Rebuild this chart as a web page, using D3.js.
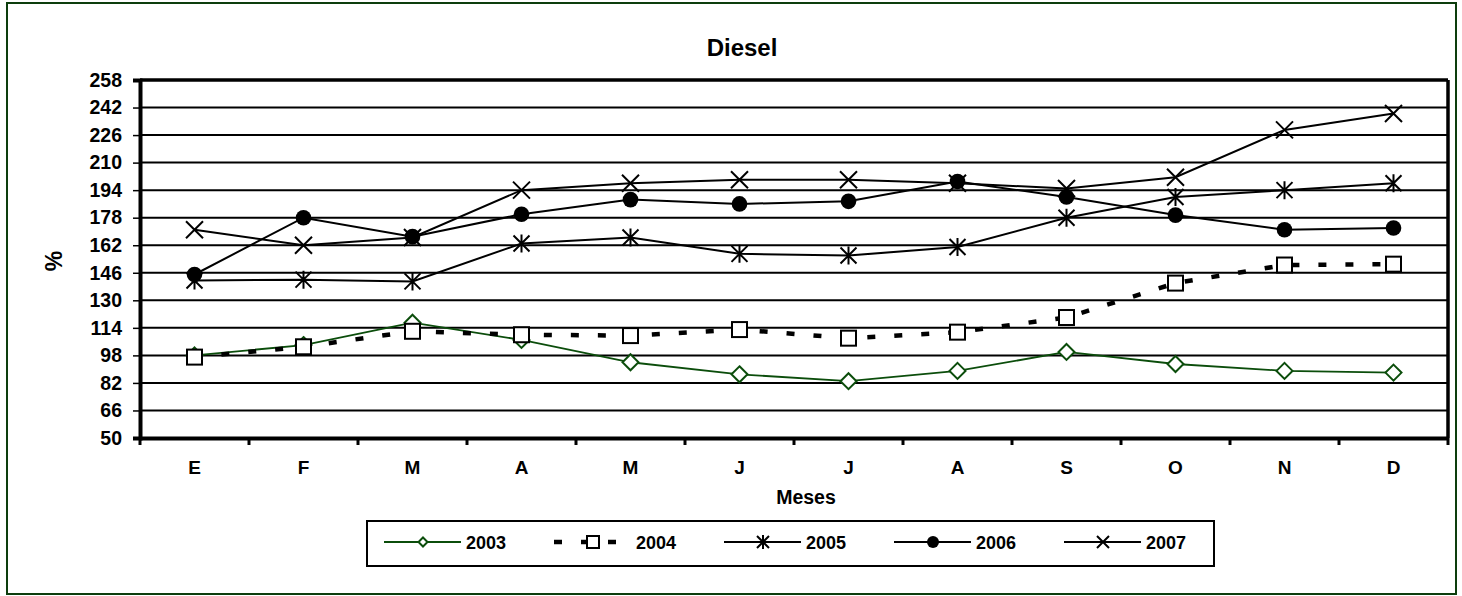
<!DOCTYPE html>
<html>
<head>
<meta charset="utf-8">
<script src="https://cdn.jsdelivr.net/npm/d3@7"></script>
<style>
  html, body { margin: 0; padding: 0; background: #fff; }
  svg { display: block; font-family: "Liberation Sans", Arial, sans-serif; font-weight: bold; }
</style>
</head>
<body>
<svg id="chart" width="1462" height="596"></svg>
<script>
const months = ["E","F","M","A","M","J","J","A","S","O","N","D"];
const yTicks = [50,66,82,98,114,130,146,162,178,194,210,226,242,258];
const seriesNames = ["2003","2004","2005","2006","2007"];
const s2003 = [98, 104, 117, 107, 94, 87, 83, 89, 100, 93, 89, 88];
const s2004 = [97, 103, 112, 110, 109.5, 113, 108, 111.5, 120, 140, 150.5, 151];
const s2005 = [141.5, 142, 141, 163, 166.5, 157, 156, 161, 178, 190, 194, 198];
const s2006 = [145, 178, 167, 180, 188.5, 186, 187.5, 199, 190, 179.5, 171, 172];
const s2007 = [171, 162, 166.5, 194, 198, 200, 200, 198, 195, 201.5, 229, 238.5];

const seriesValues = [s2003, s2004, s2005, s2006, s2007];
const styles = [
  {color: "#0b4d0b", width: 1.8, dash: null, marker: "diamond"},
  {color: "#000", width: 4.5, dash: "8,19", marker: "square"},
  {color: "#000", width: 2, dash: null, marker: "asterisk"},
  {color: "#000", width: 2, dash: null, marker: "circle"},
  {color: "#000", width: 2, dash: null, marker: "x"}
];

const svg = d3.select("#chart");
const L = 140, R = 1448, T = 80, B = 438;

// outer border
svg.append("rect").attr("x", 7).attr("y", 3).attr("width", 1449).attr("height", 591)
  .attr("fill", "#fff").attr("stroke", "#0d3d0d").attr("stroke-width", 2);

const x = d3.scaleBand().domain(d3.range(months.length)).range([L, R]);
const y = d3.scaleLinear().domain([50, 258]).range([B, T]);
const cx = i => x(i) + x.bandwidth() / 2;

// gridlines
svg.append("g").selectAll("line").data(yTicks.filter(v => v > 50 && v < 258)).join("line")
  .attr("x1", L).attr("x2", R).attr("y1", d => y(d)).attr("y2", d => y(d))
  .attr("stroke", "#000").attr("stroke-width", 2);

// plot frame top & right
svg.append("line").attr("x1", L).attr("x2", R).attr("y1", y(258)).attr("y2", y(258))
  .attr("stroke", "#000").attr("stroke-width", 3.5);
svg.append("line").attr("x1", R).attr("x2", R).attr("y1", y(258)).attr("y2", y(50))
  .attr("stroke", "#000").attr("stroke-width", 3.5);

// Y axis
const yAxis = d3.axisLeft(y).tickValues(yTicks).tickSize(7).tickPadding(11).tickFormat(d3.format("d"));
const gy = svg.append("g").attr("transform", `translate(${L},0)`).call(yAxis);
gy.select(".domain").attr("stroke", "#000").attr("stroke-width", 4);
gy.selectAll(".tick line").attr("stroke", "#000").attr("stroke-width", 1.5);
gy.selectAll(".tick text").attr("font-size", 19.5).attr("font-weight", "bold")
  .attr("font-family", "Liberation Sans, Arial, sans-serif").attr("fill", "#000");

// X axis
const xAxis = d3.axisBottom(x).tickSize(0).tickPadding(23).tickFormat(i => months[i]);
const gx = svg.append("g").attr("transform", `translate(0,${B})`).call(xAxis);
gx.select(".domain").attr("stroke", "#000").attr("stroke-width", 4);
gx.selectAll(".tick text").attr("font-size", 19).attr("font-weight", "bold")
  .attr("font-family", "Liberation Sans, Arial, sans-serif").attr("fill", "#000");
// boundary ticks
svg.append("g").selectAll("line").data(d3.range(months.length + 1)).join("line")
  .attr("x1", i => L + i * x.step()).attr("x2", i => L + i * x.step())
  .attr("y1", B).attr("y2", B + 7)
  .attr("stroke", "#000").attr("stroke-width", 3);

// titles
svg.append("text").attr("x", 742).attr("y", 55.5).attr("text-anchor", "middle")
  .attr("font-size", 24).text("Diesel");
svg.append("text").attr("x", 806).attr("y", 503.5).attr("text-anchor", "middle")
  .attr("font-size", 19.5).text("Meses");
svg.append("text").attr("transform", "translate(62,261) rotate(-90)").attr("text-anchor", "middle")
  .attr("font-size", 23).text("%");

function drawMarker(g, type, px, py, color, s) {
  if (type === "diamond") {
    g.append("path").attr("d", `M${px},${py-s}L${px+s},${py}L${px},${py+s}L${px-s},${py}Z`)
      .attr("fill", "#fff").attr("stroke", color).attr("stroke-width", 2);
  } else if (type === "square") {
    g.append("rect").attr("x", px-s).attr("y", py-s).attr("width", 2*s).attr("height", 2*s)
      .attr("fill", "#fff").attr("stroke", color).attr("stroke-width", 2);
  } else if (type === "asterisk") {
    g.append("path").attr("d", `M${px-s},${py-s}L${px+s},${py+s}M${px-s},${py+s}L${px+s},${py-s}M${px},${py-s-1}L${px},${py+s+1}`)
      .attr("stroke", color).attr("stroke-width", 2).attr("fill", "none");
  } else if (type === "circle") {
    g.append("circle").attr("cx", px).attr("cy", py).attr("r", s).attr("fill", color);
  } else if (type === "x") {
    g.append("path").attr("d", `M${px-s},${py-s}L${px+s},${py+s}M${px-s},${py+s}L${px+s},${py-s}`)
      .attr("stroke", color).attr("stroke-width", 2).attr("fill", "none");
  }
}
const plotSize = {diamond: 8, square: 7.5, asterisk: 8, circle: 7.8, x: 8.5};
const legSize = {diamond: 4.5, square: 6, asterisk: 6, circle: 6, x: 6};

const line = d3.line().x((d, i) => cx(i)).y(d => y(d));
seriesValues.forEach((vals, k) => {
  const st = styles[k];
  const g = svg.append("g");
  g.append("path").attr("d", line(vals)).attr("fill", "none")
    .attr("stroke", st.color).attr("stroke-width", st.width)
    .attr("stroke-dasharray", st.dash);
  vals.forEach((v, i) => drawMarker(g, st.marker, cx(i), y(v), st.color, plotSize[st.marker]));
});

// legend
const lg = svg.append("g");
lg.append("rect").attr("x", 367).attr("y", 521).attr("width", 847).attr("height", 45)
  .attr("fill", "#fff").attr("stroke", "#000").attr("stroke-width", 2);
seriesNames.forEach((name, k) => {
  const st = styles[k];
  const x0 = 384 + k * 170, ly = 542;
  const g = lg.append("g");
  g.append("path").attr("d", `M${x0},${ly}L${x0+77},${ly}`).attr("stroke", st.color)
    .attr("stroke-width", st.dash ? 4.5 : st.width).attr("stroke-dasharray", st.dash);
  drawMarker(g, st.marker, x0 + 39, ly, st.color, legSize[st.marker]);
  g.append("text").attr("x", x0 + 82).attr("y", ly + 6.5).attr("font-size", 18).text(name);
});
</script>
</body>
</html>
